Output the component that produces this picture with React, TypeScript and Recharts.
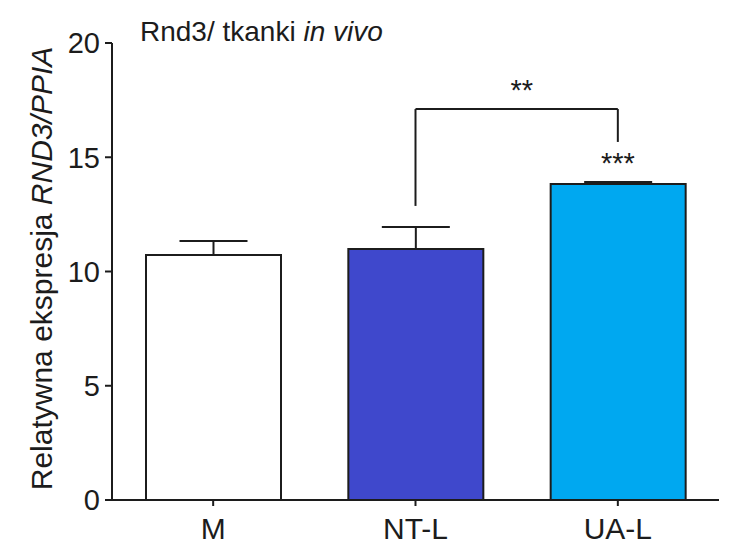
import React from 'react';
import { BarChart, Bar, XAxis, YAxis, Cell, ErrorBar, ReferenceLine, ReferenceDot } from 'recharts';

const categories = ['M', 'NT-L', 'UA-L'];
const means = [10.72, 10.98, 13.83];
const sem = [0.61, 0.97, 0.09];
const barColors = ['#ffffff', '#3f48cc', '#00a8f0'];
const yTicks = [0, 5, 10, 15, 20];
const bracketLeftBottom = 12.87;
const bracketTop = 17.11;
const bracketRightBottom = 15.67;
const starsUA = '***';
const starsBracket = '**';
const starsUAy = 14.78;

const data = categories.map((c, i) => ({ name: c, value: means[i], err: [0, sem[i]] }));

const FONT = '"Liberation Sans", Arial, sans-serif';
const INK = '#1c1c1c';

const YLabel = (props: any) => {
  const { viewBox } = props;
  const cx = 52;
  const cy = viewBox.y + viewBox.height / 2 - 3;
  return (
    <text
      x={cx}
      y={cy}
      transform={`rotate(-90, ${cx}, ${cy})`}
      textAnchor="middle"
      fontSize={30}
      fill={INK}
      fontFamily={FONT}
    >
      <tspan>Relatywna ekspresja </tspan>
      <tspan fontStyle="italic">RND3/PPIA</tspan>
    </text>
  );
};

export default function App() {
  return (
    <div style={{ position: 'absolute', left: 0, top: 0, width: 738, height: 544, background: '#fff', fontFamily: FONT }}>
      <div
        style={{
          position: 'absolute',
          left: 140,
          top: 18,
          fontSize: 28,
          lineHeight: '28px',
          color: INK,
          whiteSpace: 'nowrap',
          fontFamily: FONT,
        }}
      >
        Rnd3/ tkanki <i>in vivo</i>
      </div>
      <BarChart
        width={738}
        height={544}
        data={data}
        margin={{ top: 43, right: 19, bottom: 0, left: 0 }}
        style={{ position: 'absolute', left: 0, top: 0 }}
      >
        <XAxis
          dataKey="name"
          height={44}
          tickSize={6}
          tickMargin={12}
          axisLine={{ stroke: INK, strokeWidth: 2 }}
          tickLine={{ stroke: INK, strokeWidth: 2 }}
          tick={{ fontSize: 30, fill: INK, fontFamily: FONT }}
        />
        <YAxis
          width={112}
          domain={[0, 20]}
          ticks={yTicks}
          tickSize={7}
          tickMargin={5}
          axisLine={{ stroke: INK, strokeWidth: 2 }}
          tickLine={{ stroke: INK, strokeWidth: 2 }}
          tick={{ fontSize: 29, fill: INK, fontFamily: FONT }}
          label={<YLabel />}
        />
        <Bar dataKey="value" barSize={135} stroke={INK} strokeWidth={2} isAnimationActive={false}>
          {data.map((d, i) => (
            <Cell key={d.name} fill={barColors[i]} />
          ))}
          <ErrorBar dataKey="err" width={34} stroke={INK} strokeWidth={2} direction="y" isAnimationActive={false} />
        </Bar>
        <ReferenceLine
          segment={[{ x: 'NT-L', y: bracketLeftBottom }, { x: 'NT-L', y: bracketTop }]}
          stroke={INK}
          strokeWidth={2}
          ifOverflow="visible"
        />
        <ReferenceLine
          segment={[{ x: 'NT-L', y: bracketTop }, { x: 'UA-L', y: bracketTop }]}
          stroke={INK}
          strokeWidth={2}
          ifOverflow="visible"
          label={{ value: starsBracket, position: 'top', offset: 9.5, dx: 5, fontSize: 29, fill: INK, fontFamily: FONT }}
        />
        <ReferenceLine
          segment={[{ x: 'UA-L', y: bracketTop }, { x: 'UA-L', y: bracketRightBottom }]}
          stroke={INK}
          strokeWidth={2}
          ifOverflow="visible"
        />
        <ReferenceDot
          x="UA-L"
          y={starsUAy}
          r={0}
          fill="none"
          stroke="none"
          ifOverflow="visible"
          label={{ value: starsUA, position: 'center', fontSize: 29, fill: INK, fontFamily: FONT }}
        />
      </BarChart>
    </div>
  );
}
